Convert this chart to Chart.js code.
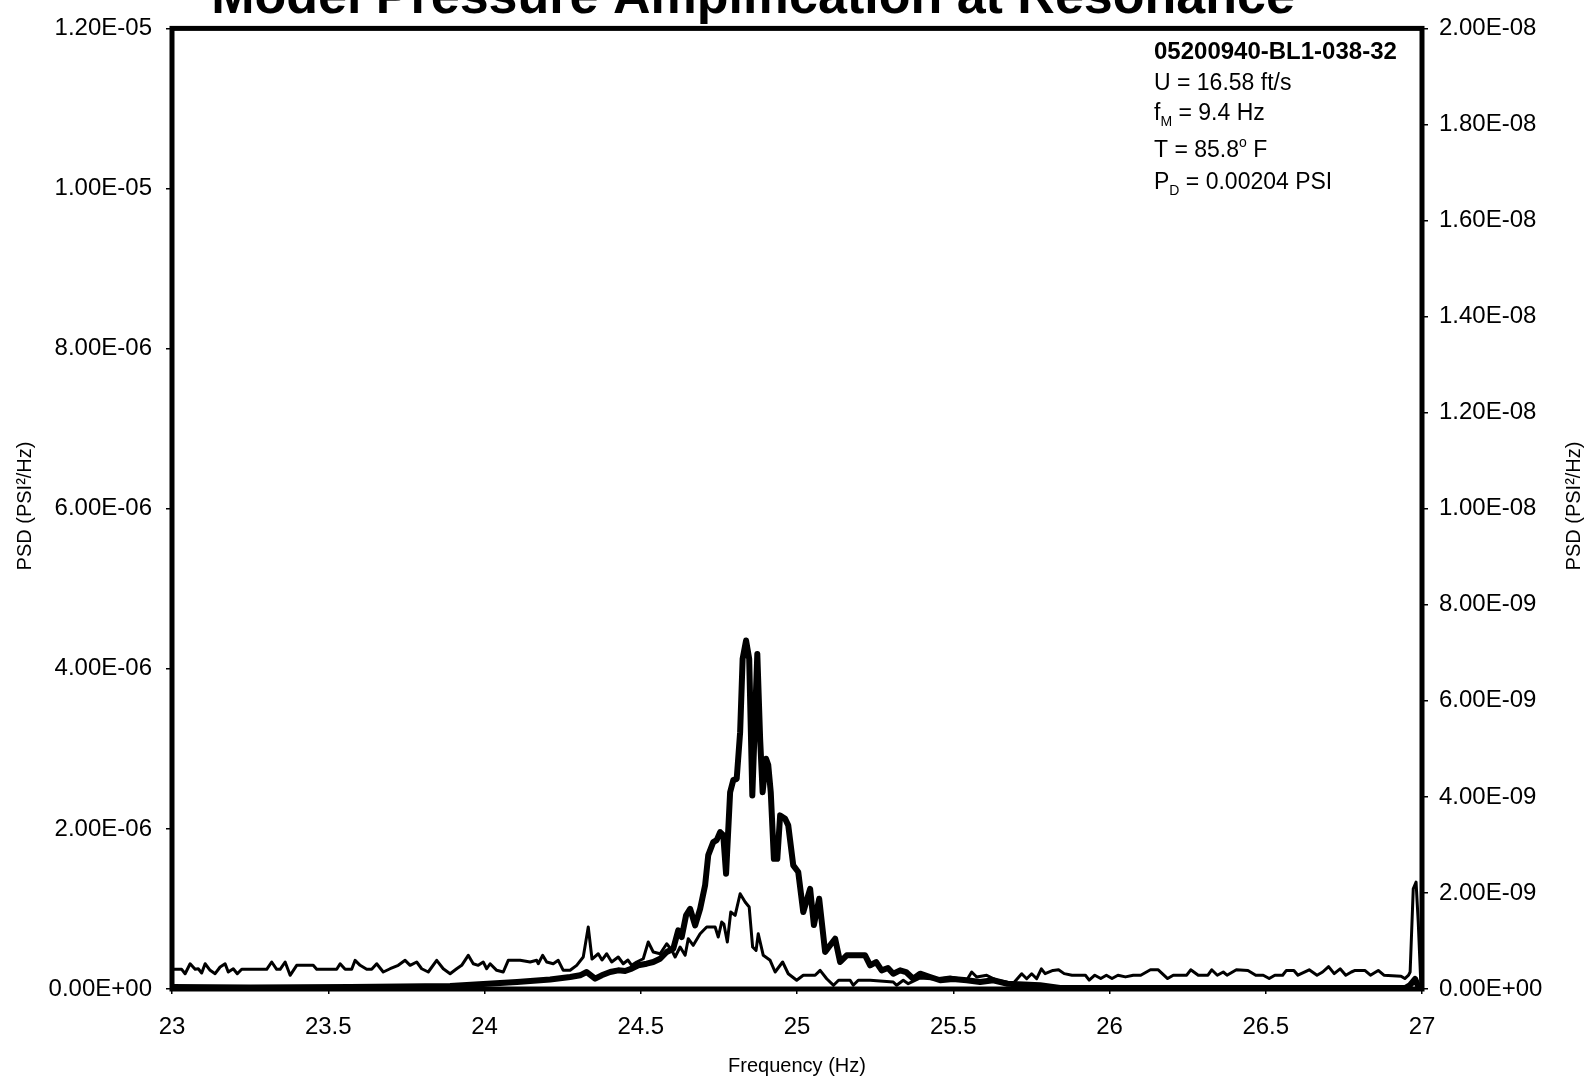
<!DOCTYPE html>
<html lang="en">
<head>
  <meta charset="UTF-8">
  <title>Model Pressure Amplification at Resonance</title>
  <script src="https://cdn.jsdelivr.net/npm/chart.js"></script>
  <style>
    html, body { margin: 0; padding: 0; background: #fff; }
    #wrap { width: 1587px; height: 1079px; position: relative; }
  </style>
</head>
<body>
<div id="wrap"><canvas id="psdChart" width="1587" height="1079"></canvas></div>

<script>
// ---- data ----
const xTicks = [23, 23.5, 24, 24.5, 25, 25.5, 26, 26.5, 27];
const leftTicks = [0, 2e-6, 4e-6, 6e-6, 8e-6, 1e-5, 1.2e-5];
const rightTicks = [0, 2e-9, 4e-9, 6e-9, 8e-9, 1e-8, 1.2e-8, 1.4e-8, 1.6e-8, 1.8e-8, 2e-8];

// heavy trace, left axis, values in 1e-6 PSI^2/Hz
const freqThick = [
  23.000, 23.250, 23.570, 23.890, 24.050, 24.104, 24.210, 24.274, 24.306, 24.327,
  24.354, 24.375, 24.402, 24.428, 24.450, 24.471, 24.492, 24.519, 24.540, 24.562,
  24.583, 24.604, 24.620, 24.631, 24.645, 24.658, 24.674, 24.690, 24.706, 24.716,
  24.732, 24.743, 24.754, 24.764, 24.773, 24.786, 24.796, 24.807, 24.818, 24.826,
  24.837, 24.847, 24.857, 24.873, 24.882, 24.890, 24.901, 24.908, 24.916, 24.926,
  24.937, 24.946, 24.962, 24.972, 24.988, 25.004, 25.020, 25.042, 25.054, 25.071,
  25.090, 25.106, 25.122, 25.138, 25.159, 25.191, 25.218, 25.234, 25.253, 25.271,
  25.291, 25.308, 25.330, 25.349, 25.372, 25.394, 25.426, 25.458, 25.499, 25.543,
  25.586, 25.628, 25.671, 25.778, 25.842, 26.290, 26.610, 26.946, 26.962, 26.978,
  26.990, 27.000
];
const psdThick = [
  0.025, 0.019, 0.025, 0.037, 0.075, 0.087, 0.119, 0.150, 0.171, 0.212,
  0.129, 0.171, 0.212, 0.233, 0.225, 0.254, 0.296, 0.316, 0.337, 0.378,
  0.462, 0.503, 0.733, 0.649, 0.920, 1.002, 0.795, 1.002, 1.299, 1.673,
  1.835, 1.860, 1.960, 1.923, 1.439, 2.459, 2.609, 2.625, 3.208, 4.124,
  4.353, 4.124, 2.418, 4.186, 3.125, 2.459, 2.875, 2.797, 2.459, 1.627,
  1.627, 2.169, 2.126, 2.044, 1.544, 1.461, 0.961, 1.252, 0.799, 1.127,
  0.462, 0.546, 0.628, 0.337, 0.421, 0.421, 0.421, 0.296, 0.337, 0.233,
  0.262, 0.191, 0.233, 0.212, 0.129, 0.191, 0.150, 0.109, 0.125, 0.109,
  0.087, 0.109, 0.066, 0.046, 0.012, 0.012, 0.012, 0.012, 0.050, 0.125,
  0.012, 0.000
];

// light trace, right axis, values in 1e-9 PSI^2/Hz
const freqThin = [
  23.000,
  23.010, 23.031, 23.042, 23.058, 23.074, 23.084, 23.095, 23.106, 23.122, 23.138,
  23.154, 23.170, 23.180, 23.196, 23.209, 23.223, 23.303, 23.319, 23.335, 23.346,
  23.362, 23.378, 23.399, 23.452, 23.463, 23.527, 23.538, 23.554, 23.575, 23.586,
  23.602, 23.623, 23.639, 23.655, 23.676, 23.698, 23.724, 23.746, 23.762, 23.783,
  23.799, 23.820, 23.847, 23.868, 23.890, 23.911, 23.927, 23.948, 23.964, 23.980,
  23.996, 24.007, 24.018, 24.039, 24.060, 24.076, 24.114, 24.146, 24.167, 24.172,
  24.186, 24.199, 24.220, 24.236, 24.252, 24.274, 24.295, 24.316, 24.332, 24.344,
  24.364, 24.376, 24.391, 24.407, 24.428, 24.444, 24.459, 24.471, 24.487, 24.508,
  24.524, 24.540, 24.562, 24.583, 24.599, 24.610, 24.626, 24.642, 24.652, 24.668,
  24.690, 24.711, 24.738, 24.748, 24.759, 24.766, 24.777, 24.788, 24.802, 24.818,
  24.834, 24.847, 24.858, 24.869, 24.876, 24.892, 24.914, 24.930, 24.954, 24.972,
  24.999, 25.020, 25.058, 25.074, 25.095, 25.117, 25.133, 25.170, 25.180, 25.196,
  25.234, 25.308, 25.319, 25.340, 25.356, 25.394, 25.442, 25.490, 25.543, 25.559,
  25.575, 25.607, 25.639, 25.671, 25.691, 25.719, 25.735, 25.751, 25.767, 25.782,
  25.794, 25.819, 25.837, 25.855, 25.880, 25.923, 25.935, 25.953, 25.972, 25.990,
  26.008, 26.027, 26.051, 26.076, 26.100, 26.131, 26.156, 26.186, 26.204, 26.247,
  26.260, 26.284, 26.315, 26.327, 26.345, 26.364, 26.376, 26.406, 26.443, 26.468,
  26.492, 26.511, 26.529, 26.554, 26.566, 26.590, 26.603, 26.639, 26.664, 26.682,
  26.701, 26.719, 26.738, 26.756, 26.774, 26.786, 26.817, 26.835, 26.860, 26.878,
  26.933, 26.945, 26.957, 26.962, 26.972, 26.981, 26.988, 26.996, 26.999
];
const psdThin = [
  0.410,
  0.410, 0.410, 0.318, 0.526, 0.410, 0.422, 0.333, 0.526, 0.389, 0.318,
  0.458, 0.526, 0.354, 0.422, 0.318, 0.410, 0.410, 0.562, 0.410, 0.410,
  0.562, 0.285, 0.493, 0.493, 0.410, 0.410, 0.526, 0.410, 0.410, 0.597,
  0.493, 0.410, 0.410, 0.526, 0.354, 0.422, 0.493, 0.597, 0.493, 0.562,
  0.422, 0.354, 0.597, 0.422, 0.318, 0.422, 0.493, 0.701, 0.526, 0.493,
  0.562, 0.422, 0.526, 0.389, 0.354, 0.597, 0.597, 0.562, 0.597, 0.526,
  0.701, 0.562, 0.526, 0.597, 0.389, 0.389, 0.493, 0.666, 1.290, 0.624,
  0.734, 0.603, 0.734, 0.562, 0.666, 0.526, 0.603, 0.493, 0.562, 0.630,
  0.978, 0.770, 0.734, 0.943, 0.811, 0.666, 0.874, 0.701, 1.047, 0.909,
  1.151, 1.290, 1.290, 1.082, 1.394, 1.352, 0.978, 1.602, 1.533, 1.983,
  1.810, 1.706, 0.874, 0.805, 1.151, 0.701, 0.597, 0.354, 0.562, 0.318,
  0.181, 0.285, 0.285, 0.389, 0.214, 0.077, 0.181, 0.181, 0.077, 0.181,
  0.181, 0.146, 0.077, 0.181, 0.110, 0.229, 0.208, 0.250, 0.181, 0.354,
  0.250, 0.285, 0.181, 0.146, 0.110, 0.318, 0.214, 0.318, 0.214, 0.420,
  0.320, 0.387, 0.400, 0.320, 0.287, 0.287, 0.185, 0.287, 0.218, 0.287,
  0.218, 0.287, 0.252, 0.287, 0.287, 0.400, 0.400, 0.218, 0.287, 0.287,
  0.400, 0.287, 0.287, 0.400, 0.287, 0.354, 0.287, 0.400, 0.387, 0.287,
  0.287, 0.218, 0.287, 0.287, 0.387, 0.387, 0.287, 0.400, 0.287, 0.354,
  0.466, 0.320, 0.420, 0.287, 0.354, 0.387, 0.387, 0.287, 0.387, 0.287,
  0.266, 0.218, 0.287, 0.354, 2.087, 2.226, 1.394, 0.146, 0.021
];

const titleText = 'Model Pressure Amplification at Resonance';
const runId = '05200940-BL1-038-32';
const FONT = '"Liberation Sans", Arial, Helvetica, sans-serif';

// 1.2e-5 -> "1.20E-05"
function sci(v) {
  const [m, e] = Number(v).toExponential(2).split('e');
  const sign = e[0] === '-' ? '-' : '+';
  const digits = e.replace(/[+-]/, '').padStart(2, '0');
  return m + 'E' + sign + digits;
}

// draw a line of text made of normal / sub / sup pieces
function drawRuns(ctx, x, y, runs, size) {
  ctx.textAlign = 'left';
  ctx.textBaseline = 'alphabetic';
  runs.forEach(r => {
    const s = r.sub || r.sup ? Math.round(size * 0.62) : size;
    ctx.font = (r.bold ? 'bold ' : '') + s + 'px ' + FONT;
    const dy = r.sub ? size * 0.28 : r.sup ? -size * 0.45 : 0;
    ctx.fillText(r.t, x, y + dy);
    x += ctx.measureText(r.t).width;
  });
}

const decor = {
  id: 'decor',
  afterDraw(chart) {
    const { ctx, chartArea: a } = chart;
    ctx.save();
    ctx.strokeStyle = '#000';
    ctx.lineWidth = 5;
    ctx.strokeRect(a.left, a.top, a.right - a.left, a.bottom - a.top);

    ctx.fillStyle = '#000';
    // title, its top is cut off by the page edge like in the scan
    ctx.font = 'bold 52px ' + FONT;
    ctx.textAlign = 'center';
    ctx.textBaseline = 'alphabetic';
    ctx.fillText(titleText, 753, 13);

    // axis titles
    ctx.font = '20px ' + FONT;
    ctx.textBaseline = 'middle';
    ctx.fillText('Frequency (Hz)', (a.left + a.right) / 2, 1066);
    [25, 1574].forEach(x => {
      ctx.save();
      ctx.translate(x, 506);
      ctx.rotate(-Math.PI / 2);
      ctx.textAlign = 'center';
      ctx.fillText('PSD (PSI\u00B2/Hz)', 0, 0);
      ctx.restore();
    });

    // test info block
    const x0 = 1154;
    drawRuns(ctx, x0, 59, [{ t: runId, bold: true }], 24);
    drawRuns(ctx, x0, 90, [{ t: 'U = 16.58 ft/s' }], 23);
    drawRuns(ctx, x0, 120, [{ t: 'f' }, { t: 'M', sub: true }, { t: ' = 9.4 Hz' }], 23);
    drawRuns(ctx, x0, 157, [{ t: 'T = 85.8' }, { t: 'o', sup: true }, { t: ' F' }], 23);
    drawRuns(ctx, x0, 189, [{ t: 'P' }, { t: 'D', sub: true }, { t: ' = 0.00204 PSI' }], 23);
    ctx.restore();
  }
};

const tickFont = { family: FONT, size: 24 };

new Chart(document.getElementById('psdChart'), {
  type: 'line',
  data: {
    datasets: [
      {
        label: 'PSD heavy',
        data: freqThick.map((f, i) => ({ x: f, y: psdThick[i] * 1e-6 })),
        yAxisID: 'y',
        borderColor: '#000',
        borderWidth: 6,
        borderJoinStyle: 'round',
        pointRadius: 0,
        tension: 0
      },
      {
        label: 'PSD light',
        data: freqThin.map((f, i) => ({ x: f, y: psdThin[i] * 1e-9 })),
        yAxisID: 'y1',
        borderColor: '#000',
        borderWidth: 3,
        borderJoinStyle: 'round',
        pointRadius: 0,
        tension: 0
      }
    ]
  },
  options: {
    responsive: false,
    animation: false,
    devicePixelRatio: 1,
    layout: { padding: { top: 25, left: 0, right: 0, bottom: 0 } },
    plugins: { legend: { display: false }, tooltip: { enabled: false }, title: { display: false } },
    scales: {
      x: {
        type: 'linear',
        min: 23, max: 27,
        afterBuildTicks: s => { s.ticks = xTicks.map(v => ({ value: v })); },
        afterFit: s => { s.height = 90; },
        ticks: { color: '#000', font: tickFont, padding: 19, maxRotation: 0, callback: v => String(v) },
        grid: { drawOnChartArea: false, drawTicks: true, tickLength: 5, color: '#000', lineWidth: 1.5 },
        border: { display: false }
      },
      y: {
        position: 'left',
        min: 0, max: 1.2e-5,
        afterBuildTicks: s => { s.ticks = leftTicks.map(v => ({ value: v })); },
        afterFit: s => { s.width = 172; },
        ticks: { color: '#000', font: tickFont, padding: 14, callback: v => sci(v) },
        grid: { drawOnChartArea: false, drawTicks: true, tickLength: 6, color: '#000', lineWidth: 1.5 },
        border: { display: false }
      },
      y1: {
        position: 'right',
        min: 0, max: 2e-8,
        afterBuildTicks: s => { s.ticks = rightTicks.map(v => ({ value: v })); },
        afterFit: s => { s.width = 165; },
        ticks: { color: '#000', font: tickFont, padding: 11, callback: v => sci(v) },
        grid: { drawOnChartArea: false, drawTicks: true, tickLength: 6, color: '#000', lineWidth: 1.5 },
        border: { display: false }
      }
    }
  },
  plugins: [decor]
});
</script>
</body>
</html>
